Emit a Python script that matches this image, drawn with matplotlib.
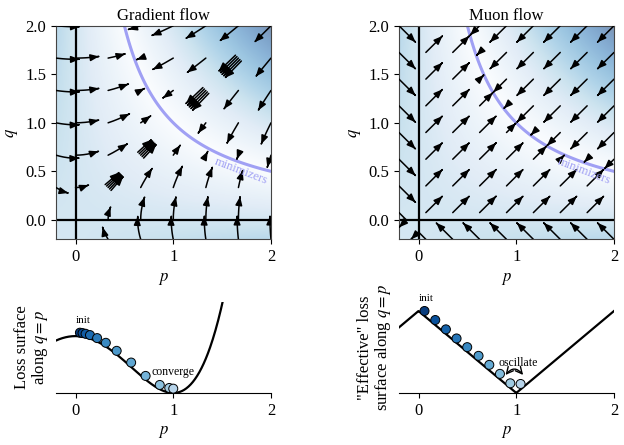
import numpy as np
import matplotlib.pyplot as plt
from matplotlib.patches import FancyArrowPatch
from matplotlib.path import Path

plt.rcParams['font.family'] = 'serif'
plt.rcParams['font.serif'] = ['Liberation Serif', 'DejaVu Serif']
plt.rcParams['mathtext.fontset'] = 'stix'
plt.rcParams['font.size'] = 12

# -----------------------------
# data
# -----------------------------
lims = (-0.2, 2.0)
ticks_top_x = [0, 1, 2]
ticks_top_y = [0.0, 0.5, 1.0, 1.5, 2.0]
ticks_bottom_x = [0, 1, 2]

# gradient descent iterates along q = p (left bottom panel)
gd_p = [0.045, 0.072, 0.103, 0.148, 0.221, 0.310, 0.421, 0.569, 0.717, 0.862, 0.959, 1.0]
gd_y = [1.060, 1.053, 1.041, 1.018, 0.965, 0.882, 0.741, 0.535, 0.300, 0.141, 0.088, 0.076]

# muon iterates along q = p (right bottom panel)
mu_p = [0.061, 0.171, 0.280, 0.389, 0.498, 0.614, 0.724, 0.833, 0.939, 1.044]
mu_y = [1.000, 0.890, 0.776, 0.665, 0.559, 0.453, 0.343, 0.233, 0.118, 0.110]

minimizer_color = '#a0a0f4'


# -----------------------------
# flows for the loss (pq - 1)^2
# -----------------------------
def grad_flow(x):
    r = x[0] * x[1] - 1
    return np.array([-r * x[1], -r * x[0]])


def muon_flow(x):
    r = x[0] * x[1] - 1
    return -np.sign(r) * np.array([np.sign(x[1]), np.sign(x[0])])


def trace(flow, start, t_max, l_max, dt=0.002):
    # short forward trajectory, stopped at the minimizer curve or the frame
    x = np.array(start, float)
    r0 = np.sign(x[0] * x[1] - 1)
    pts, length = [x.copy()], 0.0
    for _ in range(int(t_max / dt)):
        v = flow(x)
        sp = np.hypot(*v)
        if sp == 0:
            break
        h = min(dt * sp, 0.01)
        xn = x + h * v / sp
        if xn.min() < lims[0] or xn.max() > lims[1]:
            break
        if r0 != 0 and np.sign(xn[0] * xn[1] - 1) != r0:
            break
        x = xn
        length += h
        pts.append(x.copy())
        if length >= l_max:
            break
    return np.array(pts)


def draw_arrows(ax, flow, seeds, t_max, l_max):
    for s in seeds:
        pts = trace(flow, s, t_max, l_max)
        if len(pts) < 4:
            continue
        arr = FancyArrowPatch(path=Path(pts), arrowstyle='-|>,head_length=0.5,head_width=0.2',
                              mutation_scale=10, lw=1.1, color='k', zorder=3)
        ax.add_patch(arr)


# seeds on a regular grid; diagonal ones come in small bundles in the gradient panel
g = np.array([-0.2, 0.0, 1 / 3, 2 / 3, 1.0, 4 / 3, 5 / 3, 2.0])
G1, G2 = np.meshgrid(g, g)
seeds_gd = [np.column_stack([G1.ravel(), G2.ravel()])]
diag = g[(g > 0.3) & (g < 1.95) & (g != 1.0)]
for d in [-0.03, -0.015, 0.015, 0.03]:
    seeds_gd.append(np.column_stack([diag + d, diag - d]))
seeds_gd = np.vstack(seeds_gd)

m = np.linspace(-0.2, 2.0, 9)
M1, M2 = np.meshgrid(m, m)
seeds_mu = np.column_stack([M1.ravel(), M2.ravel()])

# background loss
pg = np.linspace(lims[0], lims[1], 300)
P, Q = np.meshgrid(pg, pg)
R = P * Q - 1

fig = plt.figure(figsize=(6.24, 4.45), dpi=100)
ax_gd = fig.add_axes([0.0897, 0.4622, 0.3446, 0.480])
ax_mu = fig.add_axes([0.6394, 0.4622, 0.3446, 0.480])
ax_gd1 = fig.add_axes([0.0897, 0.1169, 0.3446, 0.2045])
ax_mu1 = fig.add_axes([0.6394, 0.1169, 0.3446, 0.2045])


def top_panel(ax, title):
    ax.imshow(np.abs(R), extent=(lims[0], lims[1], lims[0], lims[1]), origin='lower',
              cmap='Blues', vmin=0, vmax=3.0, alpha=0.52, aspect='auto', zorder=0)
    ax.axhline(0, color='k', lw=1.6, zorder=1)
    ax.axvline(0, color='k', lw=1.6, zorder=1)
    pp = np.linspace(0.5, 2.0, 100)
    ax.plot(pp, 1 / pp, color=minimizer_color, lw=2.2, zorder=2)
    ax.text(1.69, 0.50, 'minimizers', color=minimizer_color, fontsize=9,
            rotation=-21, ha='center', va='center', zorder=4)
    ax.set_xlim(lims)
    ax.set_ylim(lims)
    ax.set_xticks(ticks_top_x)
    ax.set_yticks(ticks_top_y)
    ax.set_xlabel('$p$')
    ax.set_ylabel('$q$')
    ax.set_title(title, fontsize=12, pad=4)
    for s in ax.spines.values():
        s.set_color('#444444')


top_panel(ax_gd, 'Gradient flow')
draw_arrows(ax_gd, grad_flow, seeds_gd, t_max=0.4, l_max=0.24)
top_panel(ax_mu, 'Muon flow')
draw_arrows(ax_mu, muon_flow, seeds_mu, t_max=1.0, l_max=0.24)


def bottom_panel(ax, ylabel, ymax):
    for s in ['top', 'right', 'left']:
        ax.spines[s].set_visible(False)
    ax.set_yticks([])
    ax.set_xlim(lims)
    ax.set_ylim(0, ymax)
    ax.set_xticks(ticks_bottom_x)
    ax.set_xlabel('$p$')
    ax.set_ylabel(ylabel, fontsize=12, linespacing=1.0)


# left bottom: loss along q = p
pl = np.linspace(lims[0], lims[1], 400)
ax_gd1.plot(pl, (pl ** 2 - 1) ** 2, color='k', lw=1.6)
cols = plt.cm.Blues(np.linspace(0.95, 0.3, len(gd_p)))
ax_gd1.scatter(gd_p, gd_y, s=42, c=cols, edgecolors='k', linewidths=0.7, zorder=3, clip_on=False)
ax_gd1.text(0.075, 1.28, 'init', fontsize=8, ha='center', va='center')
ax_gd1.text(1.0, 0.365, 'converge', fontsize=8.5, ha='center', va='center')
bottom_panel(ax_gd1, 'Loss surface\nalong $q=p$', 1.6)

# right bottom: "effective" loss along q = p
ax_mu1.plot(pl, np.abs(np.abs(pl) - 1), color='k', lw=1.6)
cols = plt.cm.Blues(np.linspace(0.95, 0.3, len(mu_p)))
ax_mu1.scatter(mu_p, mu_y, s=42, c=cols, edgecolors='k', linewidths=0.7, zorder=3, clip_on=False)
ax_mu1.text(0.08, 1.15, 'init', fontsize=8, ha='center', va='center')
ax_mu1.text(1.02, 0.37, 'oscillate', fontsize=8.5, ha='center', va='center')
ax_mu1.annotate('', xy=(0.89, 0.22), xytext=(1.07, 0.22),
                arrowprops=dict(arrowstyle='<->', color='k', lw=1.0,
                                connectionstyle='arc3,rad=0.6', shrinkA=0, shrinkB=0))
bottom_panel(ax_mu1, '"Effective" loss\nsurface along $q=p$', 1.11)

fig.savefig('out.png', dpi=100)
